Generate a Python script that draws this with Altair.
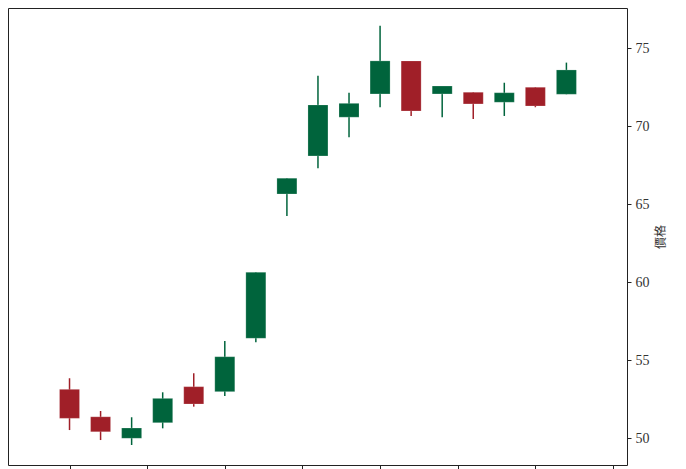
import altair as alt
import pandas as pd

idx = list(range(17))
opens  = [53.14, 51.38, 50.00, 51.00, 53.31, 52.99, 56.41, 65.66, 68.10, 70.58, 72.07, 74.19, 72.07, 72.18, 71.54, 72.50, 72.05]
closes = [51.28, 50.42, 50.66, 52.56, 52.20, 55.23, 60.64, 66.67, 71.37, 71.47, 74.19, 70.98, 72.58, 71.43, 72.15, 71.30, 73.61]
highs  = [53.85, 51.75, 51.35, 52.95, 54.17, 56.24, 60.64, 66.67, 73.24, 72.15, 76.45, 74.19, 72.58, 72.18, 72.79, 72.50, 74.08]
lows   = [50.53, 49.89, 49.57, 50.64, 52.03, 52.71, 56.15, 64.25, 67.31, 69.29, 71.22, 70.66, 70.58, 70.47, 70.66, 71.22, 72.05]

df = pd.DataFrame({"i": idx, "open": opens, "close": closes, "high": highs, "low": lows})
df["dir"] = ["up" if c >= o else "down" for o, c in zip(opens, closes)]

xs = alt.Scale(domain=[-1.82, 17.79], nice=False, zero=False)
ys = alt.Scale(domain=[48.29, 77.58], nice=False, zero=False)
col = alt.Color("dir:N", scale=alt.Scale(domain=["up", "down"], range=["#00643c", "#a01f28"]), legend=None)

xax = alt.Axis(values=[0, 2.5, 5, 7.5, 10, 12.5, 15, 17.5], labels=False, title=None, grid=False,
               domain=False, ticks=True, tickSize=5, tickColor="#222222", tickWidth=1)
yax = alt.Axis(orient="right", values=[50, 55, 60, 65, 70, 75], grid=False, domain=False,
               tickSize=4, tickColor="#222222", labelFont="Liberation Serif", labelFontSize=14,
               labelColor="#333333", labelPadding=4, title="價格", titleFont="Noto Sans CJK TC",
               titleFontSize=12, titleFontWeight="normal", titleColor="#333333", titleAngle=270,
               titlePadding=18)

base = alt.Chart(df)
wick = base.mark_rule(strokeWidth=1.5).encode(
    x=alt.X("i:Q", scale=xs, axis=xax),
    y=alt.Y("low:Q", scale=ys, axis=yax),
    y2="high:Q",
    color=col,
)
body = base.mark_bar(size=20, stroke="#ffffff", strokeWidth=0.4, strokeOpacity=0.5).encode(
    x=alt.X("i:Q", scale=xs),
    y=alt.Y("open:Q", scale=ys),
    y2="close:Q",
    color=col,
)

chart = (wick + body).properties(width=619, height=457, padding={"left": 0, "top": 0, "right": 5, "bottom": 0}).configure_view(
    stroke="#222222", strokeWidth=1
)
chart.save("out.html", embed_options={"renderer": "svg", "actions": False})
